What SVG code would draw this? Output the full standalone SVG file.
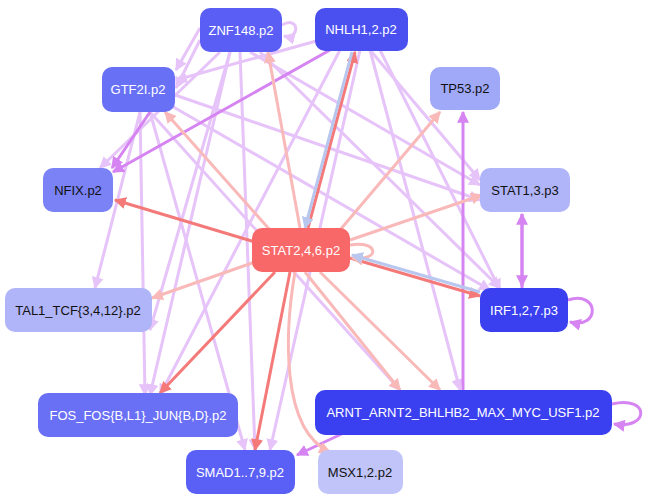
<svg xmlns="http://www.w3.org/2000/svg" width="645" height="504" viewBox="0 0 645 504">
<style>
.n text{font-family:"Liberation Sans",Arial,sans-serif;font-size:13px;text-anchor:middle;dominant-baseline:central}
.w{fill:#fff}.d{fill:#111}
.e path{fill:none;stroke-width:3}
.l{stroke:#e6c3f8}.p{stroke:#d684f2}.r{stroke:#f47a7a}.k{stroke:#f9b9b9}.b{stroke:#b9c6ee}
</style>
<defs>
<marker id="ml" viewBox="0 0 10 10" refX="9" refY="5" markerWidth="4" markerHeight="4" orient="auto"><path d="M0,0L10,5L0,10z" fill="#e6c3f8"/></marker>
<marker id="mp" viewBox="0 0 10 10" refX="9" refY="5" markerWidth="4" markerHeight="4" orient="auto"><path d="M0,0L10,5L0,10z" fill="#d684f2"/></marker>
<marker id="mr" viewBox="0 0 10 10" refX="9" refY="5" markerWidth="4" markerHeight="4" orient="auto"><path d="M0,0L10,5L0,10z" fill="#f47a7a"/></marker>
<marker id="mk" viewBox="0 0 10 10" refX="9" refY="5" markerWidth="4" markerHeight="4" orient="auto"><path d="M0,0L10,5L0,10z" fill="#f9b9b9"/></marker>
<marker id="mb" viewBox="0 0 10 10" refX="9" refY="5" markerWidth="4" markerHeight="4" orient="auto"><path d="M0,0L10,5L0,10z" fill="#b9c6ee"/></marker>
</defs>
<g id="connectors" class="e">
<path class="l" d="M230,52L150,330" marker-end="url(#ml)"/>
<path class="l" d="M220,52L100,168" marker-end="url(#ml)"/>
<path class="l" d="M200,28L176,70" marker-end="url(#ml)"/>
<path class="l" d="M320,40L176,80" marker-end="url(#ml)"/>
<path class="l" d="M200,40L176,88" marker-end="url(#ml)"/>
<path class="l" d="M250,52L480,185" marker-end="url(#ml)"/>
<path class="l" d="M260,52L500,288" marker-end="url(#ml)"/>
<path class="l" d="M240,52L255,450" marker-end="url(#ml)"/>
<path class="l" d="M230,52L150,395" marker-end="url(#ml)"/>
<path class="l" d="M175,95L480,200" marker-end="url(#ml)"/>
<path class="l" d="M170,105L490,290" marker-end="url(#ml)"/>
<path class="l" d="M150,112L245,450" marker-end="url(#ml)"/>
<path class="l" d="M140,112L95,288" marker-end="url(#ml)"/>
<path class="l" d="M150,112L400,390" marker-end="url(#ml)"/>
<path class="l" d="M140,112L145,395" marker-end="url(#ml)"/>
<path class="l" d="M370,50L480,180" marker-end="url(#ml)"/>
<path class="l" d="M380,50L500,290" marker-end="url(#ml)"/>
<path class="l" d="M370,50L460,390" marker-end="url(#ml)"/>
<path class="l" d="M360,50L270,450" marker-end="url(#ml)"/>
<path class="l" d="M340,50L160,395" marker-end="url(#ml)"/>
<path class="l" d="M282,25C300,15 300,40 284,36" marker-end="url(#ml)"/>
<path class="p" d="M150,112L112,168" marker-end="url(#mp)"/>
<path class="p" d="M330,50L113,172" marker-end="url(#mp)"/>
<path class="p" d="M463,390L463,112" marker-end="url(#mp)"/>
<path class="p" d="M522,288L522,214" marker-end="url(#mp)"/>
<path class="p" d="M522,214L522,286" marker-end="url(#mp)"/>
<path class="p" d="M568,300C600,290 600,330 570,322" marker-end="url(#mp)"/>
<path class="p" d="M612,404C650,395 650,430 614,424" marker-end="url(#mp)"/>
<path class="p" d="M350,430L297,455" marker-end="url(#mp)"/>
<path class="r" d="M255,242L115,200" marker-end="url(#mr)"/>
<path class="r" d="M308,228L355,52" marker-end="url(#mr)"/>
<path class="r" d="M350,258L480,296" marker-end="url(#mr)"/>
<path class="r" d="M275,272L160,393" marker-end="url(#mr)"/>
<path class="r" d="M290,272L255,450" marker-end="url(#mr)"/>
<path class="k" d="M300,228L268,52" marker-end="url(#mk)"/>
<path class="k" d="M270,230L165,112" marker-end="url(#mk)"/>
<path class="k" d="M340,230L440,112" marker-end="url(#mk)"/>
<path class="k" d="M350,240L482,195" marker-end="url(#mk)"/>
<path class="k" d="M255,262L152,298" marker-end="url(#mk)"/>
<path class="k" d="M320,272L440,390" marker-end="url(#mk)"/>
<path class="k" d="M305,272L400,390" marker-end="url(#mk)"/>
<path class="k" d="M295,272C285,330 280,430 330,452" marker-end="url(#mk)"/>
<path class="k" d="M350,245C380,240 380,262 352,258" marker-end="url(#mk)"/>
<path class="b" d="M480,292L352,255" marker-end="url(#mb)"/>
<path class="b" d="M352,52L305,228" marker-end="url(#mb)"/>
</g>
<g class="n">
<g id="ZNF148"><rect x="200" y="8" width="82" height="44" rx="10" fill="#5a5ef5"/><text class="w" x="241" y="30">ZNF148.p2</text></g>
<g id="NHLH12"><rect x="315" y="8" width="93" height="43" rx="10" fill="#4a50f0"/><text class="w" x="361" y="29">NHLH1,2.p2</text></g>
<g id="GTF2I"><rect x="102" y="67" width="73" height="45" rx="10" fill="#6870f5"/><text class="w" x="138" y="89">GTF2I.p2</text></g>
<g id="TP53"><rect x="430" y="67" width="70" height="43" rx="10" fill="#a0a8f8"/><text class="d" x="465" y="88">TP53.p2</text></g>
<g id="NFIX"><rect x="43" y="168" width="70" height="44" rx="10" fill="#7a82f5"/><text class="d" x="78" y="190">NFIX.p2</text></g>
<g id="STAT13"><rect x="480" y="168" width="90" height="44" rx="10" fill="#b0b4f8"/><text class="d" x="525" y="190">STAT1,3.p3</text></g>
<g id="STAT246"><rect x="252" y="228" width="98" height="44" rx="10" fill="#f86868"/><text class="w" x="301" y="250">STAT2,4,6.p2</text></g>
<g id="TAL1"><rect x="5" y="288" width="147" height="44" rx="10" fill="#b0b4f8"/><text class="d" x="78" y="310">TAL1_TCF{3,4,12}.p2</text></g>
<g id="IRF"><rect x="480" y="288" width="88" height="44" rx="10" fill="#3a40f0"/><text class="w" x="524" y="310">IRF1,2,7.p3</text></g>
<g id="FOS"><rect x="38" y="393" width="200" height="44" rx="10" fill="#6a70f5"/><text class="w" x="138" y="415">FOS_FOS{B,L1}_JUN{B,D}.p2</text></g>
<g id="ARNT"><rect x="315" y="390" width="297" height="45" rx="10" fill="#3a40f0"/><text class="w" x="463" y="412">ARNT_ARNT2_BHLHB2_MAX_MYC_USF1.p2</text></g>
<g id="SMAD"><rect x="186" y="450" width="109" height="44" rx="10" fill="#5a60f5"/><text class="w" x="240" y="472">SMAD1..7,9.p2</text></g>
<g id="MSX"><rect x="318" y="450" width="85" height="44" rx="10" fill="#c0c4f8"/><text class="d" x="360" y="472">MSX1,2.p2</text></g>
</g>
</svg>
